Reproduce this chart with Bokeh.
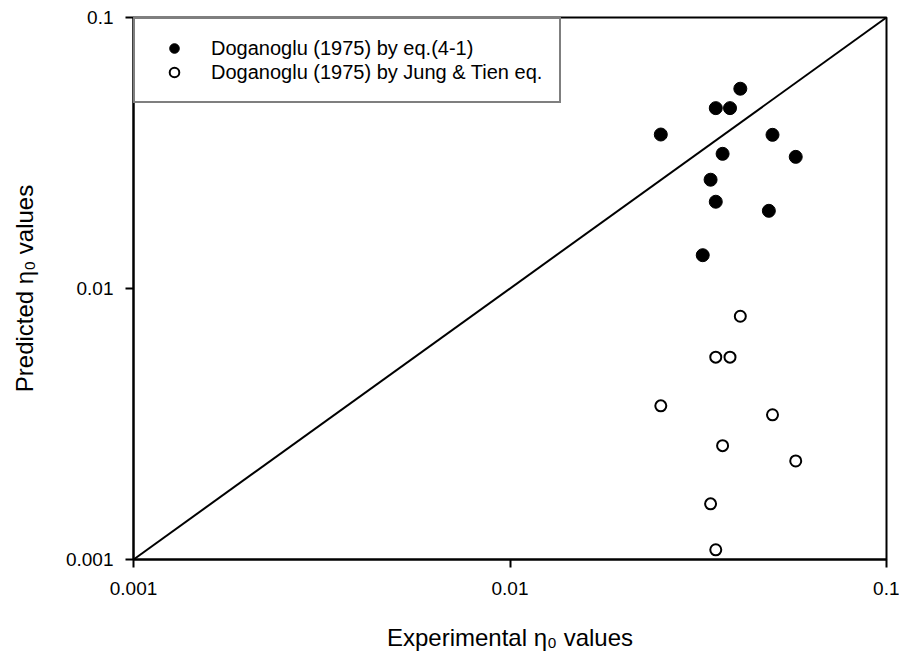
from bokeh.plotting import figure
from bokeh.models import Range1d, FixedTicker, Legend, LegendItem, ColumnDataSource
from bokeh.embed import file_html
from bokeh.resources import INLINE

# Experimental eta0 values (x) shared by both series
experimental = [0.0409, 0.0352, 0.0384, 0.02515, 0.0498, 0.0367, 0.0574, 0.0341, 0.0352, 0.0487, 0.0325]
# Predicted by eq.(4-1)
pred_eq41 = [0.0546, 0.0463, 0.0463, 0.0370, 0.0369, 0.0314, 0.0306, 0.0252, 0.0209, 0.01935, 0.01327]

experimental_jt = [0.0409, 0.0352, 0.0384, 0.02515, 0.0498, 0.0367, 0.0574, 0.0341, 0.0352]
# Predicted by Jung & Tien eq.
pred_jt = [0.0079, 0.00558, 0.00558, 0.00369, 0.00342, 0.00263, 0.00231, 0.001605, 0.001086]

diag = [0.001, 0.1]
tick_values = [0.001, 0.01, 0.1]
tick_labels = ["0.001", "0.01", "0.1"]

FONT = "Liberation Sans"

p = figure(width=899, height=656, x_axis_type="log", y_axis_type="log",
           x_range=Range1d(0.001, 0.1), y_range=Range1d(0.001, 0.1),
           output_backend="svg", toolbar_location=None,
           min_border_left=133, min_border_right=13, min_border_top=17, min_border_bottom=97)

p.xgrid.visible = False
p.ygrid.visible = False
p.outline_line_color = "black"
p.outline_line_width = 2
p.background_fill_color = "white"
p.border_fill_color = "white"

for ax in (p.xaxis[0], p.yaxis[0]):
    ax.ticker = FixedTicker(ticks=tick_values, minor_ticks=[])
    ax.major_label_overrides = {v: l for v, l in zip(tick_values, tick_labels)}
    ax.axis_line_color = "black"
    ax.axis_line_width = 2
    ax.major_tick_line_color = "black"
    ax.major_tick_line_width = 2
    ax.major_tick_out = 8
    ax.major_tick_in = 0
    ax.minor_tick_line_color = None
    ax.major_label_text_font = FONT
    ax.major_label_text_font_size = "19px"
    ax.major_label_text_color = "black"
    ax.axis_label_text_font = FONT
    ax.axis_label_text_font_size = "24px"
    ax.axis_label_text_font_style = "normal"
    ax.axis_label_text_color = "black"

p.xaxis.axis_label = "Experimental η₀ values"
p.yaxis.axis_label = "Predicted η₀ values"
p.xaxis.major_label_standoff = 14
p.xaxis.axis_label_standoff = 26
p.yaxis.major_label_standoff = 12
p.yaxis.axis_label_standoff = 25

p.line(diag, diag, line_color="black", line_width=2)

src1 = ColumnDataSource(dict(x=experimental, y=pred_eq41))
src2 = ColumnDataSource(dict(x=experimental_jt, y=pred_jt))
r1 = p.scatter("x", "y", source=src1, marker="circle", size=13,
               fill_color="black", line_color="black", line_width=1)
r2 = p.scatter("x", "y", source=src2, marker="circle", size=11,
               fill_color="white", line_color="black", line_width=2)

legend = Legend(items=[
    LegendItem(label="Doganoglu (1975) by eq.(4-1)", renderers=[r1]),
    LegendItem(label="Doganoglu (1975) by Jung & Tien eq.", renderers=[r2]),
], location="top_left")
legend.margin = 0
legend.padding = 17
legend.spacing = 0
legend.glyph_width = 44
legend.glyph_height = 24
legend.label_height = 20
legend.label_standoff = 15
legend.label_text_font = FONT
legend.label_text_font_size = "20px"
legend.label_text_color = "black"
legend.border_line_color = "black"
legend.border_line_width = 2
legend.background_fill_color = "white"
legend.background_fill_alpha = 1
p.add_layout(legend)

open("out.html", "w").write(file_html(p, INLINE))
